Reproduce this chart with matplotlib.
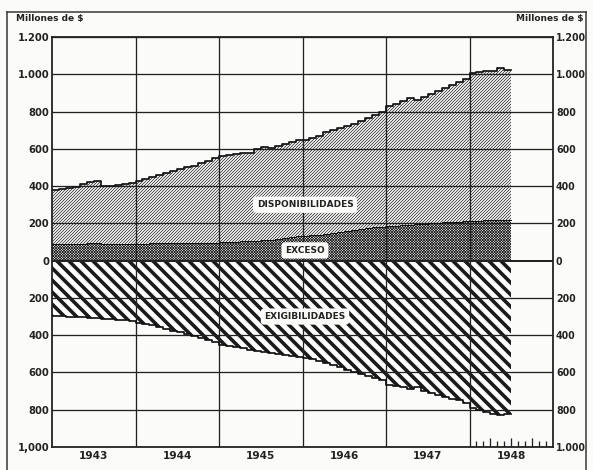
import numpy as np
import matplotlib.pyplot as plt
from matplotlib.lines import Line2D

# monthly values, Jan 1943 - Jun 1948 (millions of $)
years = [1943, 1944, 1945, 1946, 1947, 1948]

disponibilidades = [
    380, 385, 390, 395, 410, 420, 425, 400, 400, 405, 410, 415,
    430, 440, 450, 460, 470, 480, 490, 500, 510, 525, 535, 550,
    560, 565, 570, 575, 580, 600, 610, 605, 615, 625, 635, 645,
    650, 660, 670, 690, 700, 710, 720, 735, 750, 765, 780, 795,
    830, 840, 855, 870, 860, 880, 895, 910, 925, 945, 960, 975,
    1005, 1010, 1015, 1020, 1035, 1025,
]

exceso = [
    90, 90, 90, 90, 90, 92, 92, 90, 88, 88, 90, 90,
    90, 90, 92, 92, 92, 93, 93, 95, 95, 95, 95, 95,
    100, 100, 102, 104, 106, 108, 110, 112, 115, 120, 125, 130,
    133, 136, 140, 145, 150, 155, 160, 165, 170, 175, 178, 180,
    185, 188, 190, 192, 195, 198, 200, 202, 205, 208, 210, 212,
    214, 215, 216, 218, 220, 220,
]

exigibilidades = [
    295, 298, 300, 303, 305, 308, 310, 312, 315, 318, 320, 325,
    335, 340, 348, 355, 365, 375, 385, 395, 405, 415, 425, 435,
    455, 460, 465, 470, 478, 485, 490, 495, 500, 505, 510, 515,
    520, 530, 540, 550, 560, 572, 585, 598, 610, 620, 632, 640,
    665, 670, 680, 690, 680, 700, 710, 720, 730, 740, 750, 765,
    790, 800, 810, 825, 830, 825,
]

y_ticks = [1200, 1000, 800, 600, 400, 200, 0, -200, -400, -600, -800, -1000]
left_labels = ["1.200", "1.000", "800", "600", "400", "200", "0",
               "200", "400", "600", "800", "1,000"]
right_labels = ["1.200", "1.000", "800", "600", "400", "200", "0",
                "200", "400", "600", "800", "1.000"]


def edge(v):
    v = np.asarray(v, dtype=float)
    return np.append(v, v[-1])


def hatched(ax, lo, hi, pattern, lw):
    plt.rcParams['hatch.linewidth'] = lw
    coll = ax.fill_between(x, lo, hi, step='post', facecolor='white',
                           edgecolor='#1a1a1a', linewidth=0, hatch=pattern,
                           zorder=1)
    if hasattr(coll, 'set_hatch_linewidth'):
        coll.set_hatch_linewidth(lw)
    return coll


DPI = 72
fig = plt.figure(figsize=(593 / DPI, 470 / DPI), dpi=DPI, facecolor='#fbfbf9')
ax = fig.add_axes([52 / 593, 1 - 447 / 470, 501 / 593, 410 / 470])
ax.set_facecolor('#fbfbf9')

n = len(disponibilidades)
x = 1943 + np.arange(n + 1) / 12
disp = edge(disponibilidades)
exc = edge(exceso)
exig = -edge(exigibilidades)

hatched(ax, exc, disp, '/' * 8, 0.7)
hatched(ax, 0, exc, 'x' * 9, 0.7)
hatched(ax, exig, 0, '\\' * 2, 3.6)

ax.step(x, disp, where='post', color='#111', lw=1.7, zorder=3)
ax.step(x, exc, where='post', color='#111', lw=1.0, zorder=3)
ax.step(x, exig, where='post', color='#111', lw=1.7, zorder=3)

# grid
for yv in y_ticks:
    ax.axhline(yv, color='#222', lw=1.3 if yv else 2.0, zorder=2)
for xv in years[1:]:
    ax.axvline(xv, color='#222', lw=1.3, zorder=2)

# monthly marks in the last year
for k in range(1, 12):
    h = 48 if k % 3 == 0 else 30
    ax.vlines(1948 + k / 12, -1000, -1000 + h, color='#222', lw=1.3, zorder=2)

ax.set_xlim(1943, 1949)
ax.set_ylim(-1000, 1200)
for s in ax.spines.values():
    s.set_linewidth(1.8)
    s.set_color('#222')

ax.set_yticks(y_ticks)
ax.set_yticklabels(left_labels)
ax.set_xticks([yr + 0.5 for yr in years])
ax.set_xticklabels([str(yr) for yr in years])
ax.tick_params(axis='y', length=0, labelsize=10, pad=3, labelcolor='#222')
ax.tick_params(axis='x', length=0, labelsize=10.5, pad=4, labelcolor='#222')
for lab in ax.get_xticklabels() + ax.get_yticklabels():
    lab.set_fontweight('bold')

ax2 = ax.twinx()
ax2.set_ylim(-1000, 1200)
ax2.set_yticks(y_ticks)
ax2.set_yticklabels(right_labels)
ax2.tick_params(axis='y', length=0, labelsize=9.5, pad=3, labelcolor='#222')
for lab in ax2.get_yticklabels():
    lab.set_fontweight('bold')
for s in ax2.spines.values():
    s.set_visible(False)

box = dict(boxstyle='round,pad=0.4', fc='#fbfbf9', ec='none')
ax.text(1946.03, 300, "DISPONIBILIDADES", ha='center', va='center',
        fontsize=9, fontweight='bold', color='#222', bbox=box, zorder=5)
ax.text(1946.03, 55, "EXCESO", ha='center', va='center',
        fontsize=9, fontweight='bold', color='#222', bbox=box, zorder=5)
ax.text(1946.03, -300, "EXIGIBILIDADES", ha='center', va='center',
        fontsize=9, fontweight='bold', color='#222', bbox=box, zorder=5)

fig.text(16 / 593, 1 - 19 / 470, "Millones de $", ha='left', va='center',
         fontsize=9, fontweight='bold', color='#222')
fig.text(584 / 593, 1 - 19 / 470, "Millones de $", ha='right', va='center',
         fontsize=9, fontweight='bold', color='#222')

# outer frame
fr = dict(color='#333', lw=1.5, transform=fig.transFigure)
fig.add_artist(Line2D([7 / 593, 7 / 593], [0, 1 - 12 / 470], **fr))
fig.add_artist(Line2D([7 / 593, 586 / 593], [1 - 12 / 470, 1 - 12 / 470], **fr))
fig.add_artist(Line2D([586 / 593, 586 / 593], [0, 1 - 12 / 470], **fr))

fig.savefig('out.png', dpi=DPI, facecolor=fig.get_facecolor())
